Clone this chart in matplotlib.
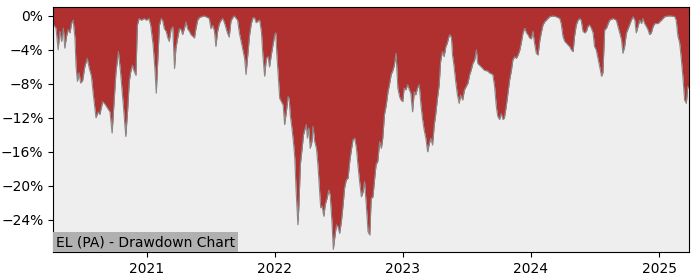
import pandas as pd
import matplotlib
matplotlib.use("Agg")
import matplotlib.pyplot as plt
import matplotlib.dates as mdates
from matplotlib.ticker import MultipleLocator, PercentFormatter

# drawdown readings (date, percent below running peak)
dates_2020 = ["2020-04-09", "2020-04-11", "2020-04-17", "2020-04-23", "2020-04-28", "2020-05-03",
              "2020-05-08", "2020-05-12", "2020-05-17", "2020-05-22", "2020-05-27", "2020-05-31",
              "2020-06-05", "2020-06-10", "2020-06-13", "2020-06-17", "2020-06-22", "2020-06-26",
              "2020-07-02", "2020-07-08", "2020-07-15", "2020-07-21", "2020-07-27", "2020-08-01",
              "2020-08-09", "2020-08-15", "2020-08-20", "2020-08-28", "2020-09-04", "2020-09-10",
              "2020-09-18", "2020-09-24", "2020-09-29", "2020-10-05", "2020-10-12", "2020-10-18",
              "2020-10-26", "2020-11-02", "2020-11-07", "2020-11-12", "2020-11-16", "2020-11-21",
              "2020-11-25", "2020-12-01", "2020-12-05", "2020-12-10", "2020-12-17", "2020-12-24",
              "2020-12-31"]
dd_2020 = [-1.0, -1.1, -1.45, -4.0, -1.8, -3.0,
           -1.45, -3.8, -2.4, -1.6, -2.0, -0.9,
           -0.5, -2.6, -5.8, -7.7, -6.7, -7.9,
           -7.6, -6.0, -5.0, -6.2, -7.1, -9.1,
           -12.0, -11.3, -11.6, -10.1, -10.4, -10.8,
           -11.3, -13.8, -10.5, -6.6, -4.2, -6.6,
           -10.5, -14.2, -11.3, -7.7, -6.6, -5.8,
           -6.4, -7.0, -1.1, -0.3, -0.5, -0.3,
           -0.5]

dates_2021 = ["2021-01-07", "2021-01-12", "2021-01-19", "2021-01-24", "2021-01-28", "2021-02-02",
              "2021-02-06", "2021-02-11", "2021-02-15", "2021-02-20", "2021-02-25", "2021-03-02",
              "2021-03-06", "2021-03-11", "2021-03-16", "2021-03-21", "2021-03-25", "2021-03-30",
              "2021-04-04", "2021-04-09", "2021-04-13", "2021-04-18", "2021-04-23", "2021-04-27",
              "2021-05-02", "2021-05-07", "2021-05-12", "2021-05-17", "2021-05-21", "2021-05-26",
              "2021-05-31", "2021-06-05", "2021-06-14", "2021-06-24", "2021-06-28", "2021-07-03",
              "2021-07-08", "2021-07-13", "2021-07-17", "2021-07-22", "2021-07-27", "2021-08-01",
              "2021-08-06", "2021-08-12", "2021-08-19", "2021-08-24", "2021-08-29", "2021-09-03",
              "2021-09-08", "2021-09-13", "2021-09-17", "2021-09-22", "2021-09-27", "2021-10-02",
              "2021-10-07", "2021-10-11", "2021-10-16", "2021-10-21", "2021-10-26", "2021-10-31",
              "2021-11-04", "2021-11-09", "2021-11-14", "2021-11-19", "2021-11-24", "2021-11-28",
              "2021-12-03", "2021-12-08", "2021-12-13", "2021-12-17", "2021-12-22", "2021-12-27"]
dd_2021 = [-0.3, -1.1, -3.4, -6.2, -9.1, -4.6,
           -1.1, -0.3, -0.5, -1.5, -1.8, -2.6,
           -3.0, -1.6, -1.3, -6.2, -3.8, -2.6,
           -1.5, -1.6, -2.2, -1.5, -0.7, -1.5,
           -1.8, -2.2, -2.4, -2.6, -1.5, -0.5,
           -0.2, -0.1, 0.0, -0.2, -0.3, -1.5,
           -1.1, -1.8, -3.6, -1.8, -0.9, -0.5,
           -0.3, -1.0, -2.0, -2.5, -0.6, -0.2,
           0.0, -0.3, -0.5, -2.0, -3.0, -4.0,
           -5.0, -6.9, -4.6, -2.3, -0.9, -0.2,
           -0.2, -0.8, -0.6, -0.5, -1.9, -4.6,
           -7.1, -5.0, -4.8, -6.0, -4.6, -3.4]

dates_2022 = ["2022-01-01", "2022-01-04", "2022-01-07", "2022-01-12", "2022-01-15", "2022-01-20",
              "2022-01-25", "2022-01-29", "2022-02-03", "2022-02-08", "2022-02-11", "2022-02-14",
              "2022-02-19", "2022-02-24", "2022-02-27", "2022-03-03", "2022-03-08", "2022-03-11",
              "2022-03-15", "2022-03-20", "2022-03-24", "2022-03-29", "2022-04-01", "2022-04-04",
              "2022-04-08", "2022-04-12", "2022-04-17", "2022-04-20", "2022-04-25", "2022-04-30",
              "2022-05-04", "2022-05-09", "2022-05-12", "2022-05-16", "2022-05-21", "2022-05-25",
              "2022-05-30", "2022-06-04", "2022-06-08", "2022-06-13", "2022-06-17", "2022-06-22",
              "2022-06-26", "2022-06-30", "2022-07-05", "2022-07-10", "2022-07-15", "2022-07-19",
              "2022-07-24", "2022-07-29", "2022-08-03", "2022-08-07", "2022-08-12", "2022-08-17",
              "2022-08-22", "2022-08-26", "2022-08-31", "2022-09-05", "2022-09-10", "2022-09-14",
              "2022-09-19", "2022-09-24", "2022-09-29", "2022-10-03", "2022-10-08", "2022-10-13",
              "2022-10-17", "2022-10-22", "2022-10-27", "2022-11-01", "2022-11-05", "2022-11-10",
              "2022-11-15", "2022-11-20", "2022-11-24", "2022-11-29", "2022-12-04", "2022-12-08",
              "2022-12-13", "2022-12-18", "2022-12-23", "2022-12-27"]
dd_2022 = [-2.2, -2.0, -4.6, -7.7, -9.7, -10.1,
           -10.5, -12.8, -11.3, -9.5, -9.7, -11.6,
           -13.2, -15.2, -16.7, -20.7, -24.6, -22.2,
           -17.5, -15.6, -14.0, -13.2, -12.8, -14.4,
           -13.2, -15.6, -14.8, -13.0, -14.8, -15.6,
           -17.5, -20.7, -22.6, -22.4, -23.6, -22.2,
           -21.5, -20.5, -21.1, -24.2, -27.5, -25.8,
           -24.6, -24.8, -25.6, -24.2, -22.2, -20.3,
           -19.3, -19.1, -17.1, -15.9, -14.6, -14.4,
           -15.6, -17.5, -19.5, -21.3, -20.7, -19.5,
           -22.2, -25.4, -25.8, -21.5, -21.3, -19.1,
           -17.5, -17.1, -14.8, -15.6, -14.4, -11.6,
           -10.5, -8.9, -8.1, -6.9, -6.4, -5.8,
           -4.4, -8.5, -9.5, -9.9]

dates_2023 = ["2023-01-01", "2023-01-05", "2023-01-10", "2023-01-15", "2023-01-20", "2023-01-24",
              "2023-01-29", "2023-02-03", "2023-02-07", "2023-02-12", "2023-02-17", "2023-02-22",
              "2023-02-26", "2023-03-03", "2023-03-08", "2023-03-13", "2023-03-17", "2023-03-22",
              "2023-03-27", "2023-04-01", "2023-04-05", "2023-04-10", "2023-04-15", "2023-04-19",
              "2023-04-24", "2023-04-29", "2023-05-04", "2023-05-08", "2023-05-13", "2023-05-16",
              "2023-05-20", "2023-05-23", "2023-05-27", "2023-06-01", "2023-06-06", "2023-06-11",
              "2023-06-15", "2023-06-21", "2023-06-26", "2023-07-01", "2023-07-06", "2023-07-11",
              "2023-07-15", "2023-07-20", "2023-07-25", "2023-07-30", "2023-08-03", "2023-08-13",
              "2023-08-22", "2023-09-01", "2023-09-05", "2023-09-15", "2023-09-20", "2023-09-25",
              "2023-09-29", "2023-10-04", "2023-10-09", "2023-10-14", "2023-10-18", "2023-10-23",
              "2023-10-28", "2023-11-02", "2023-11-07", "2023-11-11", "2023-11-16", "2023-11-21",
              "2023-11-26", "2023-12-01", "2023-12-05", "2023-12-10", "2023-12-15", "2023-12-20",
              "2023-12-24", "2023-12-29"]
dd_2023 = [-10.1, -8.5, -8.7, -8.1, -8.7, -9.1,
           -11.3, -8.9, -9.3, -8.5, -8.1, -10.5,
           -12.0, -13.4, -14.4, -16.0, -15.2, -14.4,
           -15.2, -12.8, -11.6, -9.7, -8.1, -5.4,
           -4.2, -4.8, -3.6, -3.2, -2.4, -2.2,
           -2.6, -4.6, -5.8, -7.7, -9.3, -10.3,
           -9.3, -9.9, -8.7, -8.3, -7.9, -6.9,
           -6.4, -5.6, -5.2, -4.0, -5.6, -6.0,
           -6.4, -6.5, -6.7, -6.9, -8.3, -10.7,
           -11.8, -12.2, -11.5, -12.2, -12.0, -10.7,
           -9.1, -7.5, -6.4, -5.2, -4.8, -5.0,
           -4.6, -4.0, -3.2, -2.0, -1.45, -2.0,
           -2.2, -2.6]

dates_2024 = ["2024-01-03", "2024-01-07", "2024-01-12", "2024-01-17", "2024-01-22", "2024-01-27",
              "2024-01-31", "2024-02-05", "2024-02-10", "2024-02-19", "2024-02-24", "2024-03-05",
              "2024-03-14", "2024-03-24", "2024-03-28", "2024-04-02", "2024-04-07", "2024-04-12",
              "2024-04-16", "2024-04-21", "2024-04-26", "2024-05-01", "2024-05-05", "2024-05-10",
              "2024-05-15", "2024-05-20", "2024-05-24", "2024-05-29", "2024-06-03", "2024-06-08",
              "2024-06-12", "2024-06-17", "2024-06-22", "2024-06-27", "2024-07-01", "2024-07-06",
              "2024-07-11", "2024-07-16", "2024-07-21", "2024-07-25", "2024-07-30", "2024-08-04",
              "2024-08-09", "2024-08-13", "2024-08-23", "2024-09-01", "2024-09-06", "2024-09-11",
              "2024-09-16", "2024-09-20", "2024-09-25", "2024-09-30", "2024-10-09", "2024-10-14",
              "2024-10-19", "2024-10-24", "2024-10-28", "2024-11-02", "2024-11-07", "2024-11-12",
              "2024-11-16", "2024-11-21", "2024-11-26", "2024-12-01", "2024-12-05", "2024-12-10",
              "2024-12-15", "2024-12-20", "2024-12-29"]
dd_2024 = [-2.7, -1.8, -3.2, -4.4, -4.6, -2.9,
           -2.0, -1.06, -0.7, -0.3, -0.1, 0.0,
           -0.1, -0.3, -0.9, -2.4, -3.0, -3.2,
           -3.4, -3.6, -4.0, -4.2, -2.4, -1.06,
           -0.5, -0.3, -0.5, -1.8, -2.0, -1.8,
           -1.25, -1.06, -1.45, -2.0, -3.6, -4.0,
           -5.0, -6.0, -7.1, -6.7, -1.65, -1.45,
           -0.9, -0.5, -0.3, -0.5, -1.25, -2.0,
           -2.8, -4.4, -3.6, -2.0, -1.06, -0.5,
           -0.1, -0.5, -2.0, -1.25, -0.5, -0.9,
           -0.3, -0.9, -1.25, -1.65, -2.2, -2.0,
           -1.25, -0.9, -0.9]

dates_2025 = ["2025-01-03", "2025-01-08", "2025-01-17", "2025-01-27", "2025-02-05", "2025-02-15",
              "2025-02-19", "2025-02-24", "2025-03-01", "2025-03-05", "2025-03-10", "2025-03-15",
              "2025-03-20", "2025-03-24", "2025-03-27"]
dd_2025 = [-0.7, -0.5, -0.1, 0.0, 0.0, -0.1,
           -0.5, -2.4, -3.2, -4.8, -7.1, -9.9,
           -10.3, -8.3, -8.5]

title = "EL (PA) - Drawdown Chart"

dates = pd.to_datetime(dates_2020 + dates_2021 + dates_2022 + dates_2023 + dates_2024 + dates_2025)
drawdown = dd_2020 + dd_2021 + dd_2022 + dd_2023 + dd_2024 + dd_2025

y_top = 1.05
y_bottom = -27.8

fig = plt.figure(figsize=(7, 2.8), dpi=100)
ax = fig.add_axes([0.076, 0.1, 0.908, 0.875])
ax.set_facecolor("#eeeeee")

ax.fill_between(dates, drawdown, y_top, color="#b03030", linewidth=0)
ax.plot(dates, drawdown, color="#888888", linewidth=0.8)

ax.set_xlim(dates[0], dates[-1])
ax.set_ylim(y_bottom, y_top)
ax.yaxis.set_major_locator(MultipleLocator(4))
ax.yaxis.set_major_formatter(PercentFormatter(xmax=100, decimals=0))
ax.xaxis.set_major_locator(mdates.YearLocator())
ax.xaxis.set_major_formatter(mdates.DateFormatter("%Y"))
ax.tick_params(labelsize=10)

ax.text(0.004, 0.012, title, transform=ax.transAxes, fontsize=10, va="bottom", ha="left",
        bbox=dict(facecolor="#b0b0b0", edgecolor="none", pad=2))

fig.savefig("out.png", dpi=100)
